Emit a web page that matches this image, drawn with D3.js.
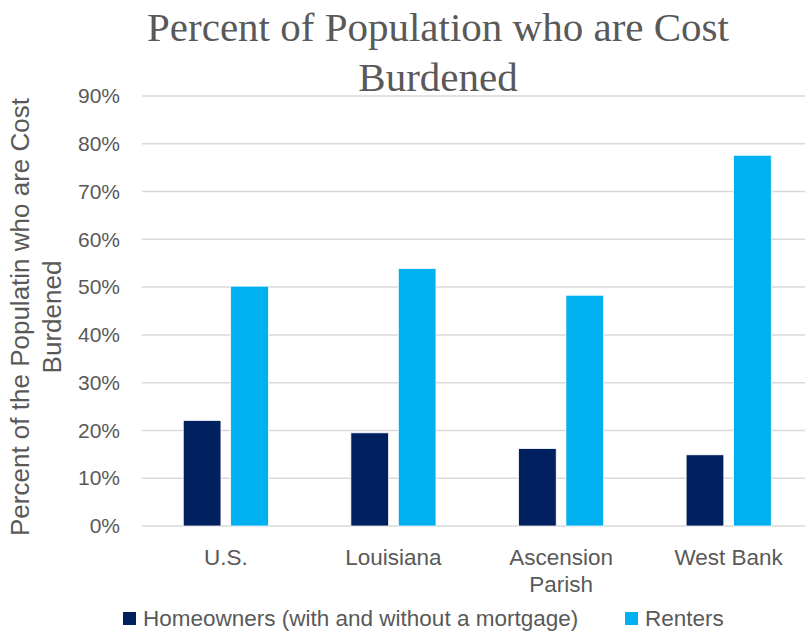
<!DOCTYPE html>
<html>
<head>
<meta charset="utf-8">
<script src="https://cdn.jsdelivr.net/npm/d3@7"></script>
<style>
  body { margin: 0; background: #fff; }
  svg { display: block; }
</style>
</head>
<body>
<div id="chart"></div>
<script>
// data
var categories = [["U.S."], ["Louisiana"], ["Ascension", "Parish"], ["West Bank"]];
var seriesNames = ["Homeowners (with and without a mortgage)", "Renters"];
var homeowners = [0.221, 0.195, 0.162, 0.149];
var renters = [0.502, 0.539, 0.483, 0.776];
var yTicks = [0, 0.1, 0.2, 0.3, 0.4, 0.5, 0.6, 0.7, 0.8, 0.9];
var colors = ["#002060", "#00B0F0"];

var W = 805, H = 631;
var sans = "'Liberation Sans', Arial, sans-serif";
var grey = "#595959";

var svg = d3.select("#chart").append("svg")
    .attr("width", W).attr("height", H);

var y = d3.scaleLinear().domain([0, 0.9]).range([526, 96]);

var catKeys = categories.map(function(c) { return c.join(" "); });
var x0 = d3.scaleBand().domain(catKeys).range([142, 812.5]).padding(0);
var x1 = d3.scaleBand().domain(seriesNames).range([0, x0.bandwidth()])
    .paddingInner(0.205).paddingOuter(0.87);

/* gridlines */
svg.append("g").selectAll("line")
    .data(yTicks)
    .enter().append("line")
    .attr("x1", 142).attr("x2", W)
    .attr("y1", function(d) { return y(d); })
    .attr("y2", function(d) { return y(d); })
    .style("stroke", "#d9d9d9")
    .style("stroke-width", 1.5);

/* y axis labels */
var yAxis = d3.axisLeft(y).tickValues(yTicks).tickFormat(d3.format(".0%")).tickSize(0).tickPadding(0);
var ya = svg.append("g").attr("transform", "translate(120,0)").call(yAxis);
ya.select(".domain").remove();
ya.selectAll("text")
    .style("font-family", sans).style("font-size", "21px").style("fill", grey);

/* bars */
var rows = catKeys.map(function(k, i) {
  return { key: k, vals: [homeowners[i], renters[i]] };
});

var groups = svg.append("g").selectAll("g")
    .data(rows)
    .enter().append("g")
    .attr("transform", function(d) { return "translate(" + x0(d.key) + ",0)"; });

groups.selectAll("rect")
    .data(function(d) { return d.vals.map(function(v, j) { return { s: seriesNames[j], v: v, j: j }; }); })
    .enter().append("rect")
    .attr("x", function(d) { return x1(d.s); })
    .attr("width", x1.bandwidth())
    .attr("y", function(d) { return y(d.v); })
    .attr("height", function(d) { return y(0) - y(d.v); })
    .style("fill", function(d) { return colors[d.j]; })
    .style("stroke", "#fff")
    .style("stroke-width", 0.75);

/* category labels */
var xl = svg.append("g").selectAll("text")
    .data(categories)
    .enter().append("text")
    .attr("x", function(d, i) { return x0(catKeys[i]) + x0.bandwidth() / 2; })
    .attr("y", 565)
    .attr("text-anchor", "middle")
    .style("font-family", sans).style("font-size", "22.5px").style("fill", grey);
xl.selectAll("tspan")
    .data(function(d) { return d; })
    .enter().append("tspan")
    .attr("x", function() { return d3.select(this.parentNode).attr("x"); })
    .attr("dy", function(d, i) { return i ? 27 : 0; })
    .text(function(d) { return d; });

/* title */
var title = svg.append("text")
    .attr("x", 438).attr("y", 40)
    .attr("text-anchor", "middle")
    .style("font-family", "'Liberation Serif', 'Times New Roman', serif")
    .style("font-size", "41px").style("fill", grey);
title.append("tspan").attr("x", 438).attr("y", 41).text("Percent of Population who are Cost");
title.append("tspan").attr("x", 438).attr("y", 91).text("Burdened");

/* y axis title */
var yt = svg.append("text")
    .attr("transform", "translate(0,317) rotate(-90)")
    .attr("text-anchor", "middle")
    .style("font-family", sans).style("font-size", "26px").style("fill", grey);
yt.append("tspan").attr("x", 0).attr("y", 29).text("Percent of the Populatin who are Cost");
yt.append("tspan").attr("x", 0).attr("y", 61).text("Burdened");

/* legend */
var legX = [123, 625];
var leg = svg.append("g").selectAll("g")
    .data(seriesNames)
    .enter().append("g")
    .attr("transform", function(d, i) { return "translate(" + legX[i] + ",612)"; });
leg.append("rect")
    .attr("width", 13).attr("height", 13)
    .style("fill", function(d, i) { return colors[i]; });
leg.append("text")
    .attr("x", 20).attr("y", 14)
    .style("font-family", sans).style("font-size", "22.5px").style("fill", grey)
    .text(function(d) { return d; });
</script>
</body>
</html>
